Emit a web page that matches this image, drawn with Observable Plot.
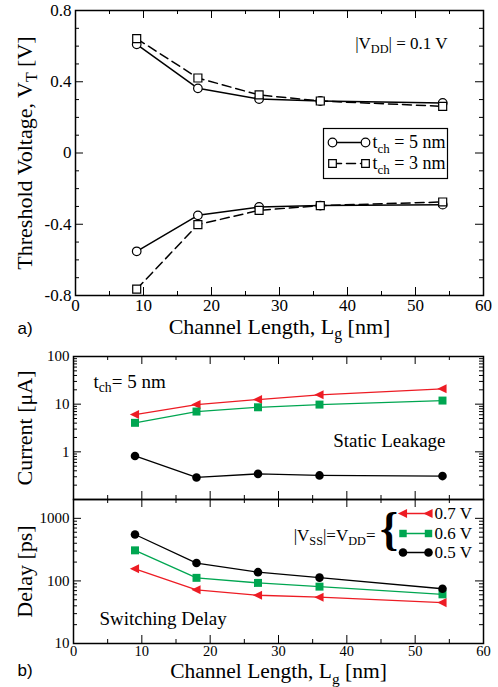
<!DOCTYPE html>
<html><head><meta charset="utf-8">
<script src="https://cdn.jsdelivr.net/npm/d3@7"></script>
<script src="https://cdn.jsdelivr.net/npm/@observablehq/plot@0.6"></script>
<style>
body{margin:0;background:#fff;}
#wrap{position:relative;width:498px;height:687px;overflow:hidden;background:#fff;}
#wrap svg{position:absolute;left:0;}
</style></head><body><div id="wrap"></div>
<script>
// ---------- data ----------
const Lg = [9, 18, 27, 36, 54];
// panel a: threshold voltage [V]
const vtUpper5 = [0.61, 0.363, 0.303, 0.292, 0.281];
const vtUpper3 = [0.642, 0.421, 0.326, 0.292, 0.262];
const vtLower5 = [-0.552, -0.35, -0.303, -0.295, -0.29];
const vtLower3 = [-0.764, -0.402, -0.322, -0.295, -0.275];
const tchLabels = ["t_{ch} = 5 nm", "t_{ch} = 3 nm"];
// panel b: static leakage current [uA]
const leak07 = [6.05, 9.8, 12.5, 15.7, 21];
const leak06 = [4.06, 7.0, 8.6, 9.8, 11.9];
const leak05 = [0.82, 0.29, 0.345, 0.32, 0.31];
// panel b: switching delay [ps]
const delay07 = [156, 72, 59, 55, 45];
const delay06 = [308, 112, 93, 81, 61];
const delay05 = [552, 193, 138, 113, 75];
const voltLabels = ["0.7 V", "0.6 V", "0.5 V"];
// ticks
const xMajor = [0, 10, 20, 30, 40, 50, 60];
const xMinor = [5, 15, 25, 35, 45, 55];
const vtMajor = [-0.8, -0.4, 0, 0.4, 0.8];
const vtMinor = [-0.7, -0.6, -0.5, -0.3, -0.2, -0.1, 0.1, 0.2, 0.3, 0.5, 0.6, 0.7];
const leakMajor = [1, 10, 100];
const delayMajor = [10, 100, 1000];

// ---------- tables ----------
const vtRows = [];
Lg.forEach((x, i) => {
  vtRows.push({x, v: vtUpper5[i], tch: "5", grp: "5u"});
  vtRows.push({x, v: vtLower5[i], tch: "5", grp: "5l"});
  vtRows.push({x, v: vtUpper3[i], tch: "3", grp: "3u"});
  vtRows.push({x, v: vtLower3[i], tch: "3", grp: "3l"});
});
const toRows = (arr) => Lg.map((x, i) => ({x, v: arr[i]}));

const RED = "#ed1c24", GREEN = "#00a651", BLACK = "#000";
const triLeft = {
  draw(ctx, size) {
    const r = Math.sqrt(size / Math.PI);
    ctx.moveTo(-1.2 * r, 0);
    ctx.lineTo(0.95 * r, -1.05 * r);
    ctx.lineTo(0.95 * r, 1.05 * r);
    ctx.closePath();
  }
};
const segShape = {draw(ctx, l) { ctx.moveTo(0, 0); ctx.lineTo(0, -l); }};

const MAJ = 8, MIN = 4;
function ticksX(major, minor, innerH) {
  return [
    Plot.tickX(major, {x: d => d, insetTop: innerH - MAJ, stroke: BLACK}),
    Plot.tickX(minor, {x: d => d, insetTop: innerH - MIN, stroke: BLACK}),
    Plot.tickX(major, {x: d => d, insetBottom: innerH - MAJ, stroke: BLACK}),
    Plot.tickX(minor, {x: d => d, insetBottom: innerH - MIN, stroke: BLACK})
  ];
}
function ticksY(major, minor, innerW) {
  return [
    Plot.tickY(major, {y: d => d, insetRight: innerW - MAJ, stroke: BLACK}),
    Plot.tickY(minor, {y: d => d, insetRight: innerW - MIN, stroke: BLACK}),
    Plot.tickY(major, {y: d => d, insetLeft: innerW - MAJ, stroke: BLACK}),
    Plot.tickY(minor, {y: d => d, insetLeft: innerW - MIN, stroke: BLACK})
  ];
}
const baseStyle = {fontFamily: "'Liberation Serif', 'Times New Roman', serif", background: "transparent", overflow: "visible", color: "black"};
const fmt = d => String(d);

// ---------- panel a ----------
const A = {ml: 75, mr: 15, mt: 10, mb: 45, h: 340};
const aW = 498 - A.ml - A.mr, aH = A.h - A.mt - A.mb;
const plotA = Plot.plot({
  width: 498, height: A.h,
  marginLeft: A.ml, marginRight: A.mr, marginTop: A.mt, marginBottom: A.mb,
  style: baseStyle,
  x: {domain: [0, 60]},
  y: {domain: [-0.8, 0.8]},
  marks: [
    ...ticksX(xMajor, xMinor, aH),
    ...ticksY(vtMajor, vtMinor, aW),
    Plot.axisX({ticks: xMajor, tickSize: 0, tickPadding: 3, fontSize: 17, tickFormat: fmt, label: null}),
    Plot.axisY({ticks: vtMajor, tickSize: 0, tickPadding: 4, fontSize: 17, tickFormat: fmt, label: null}),
    Plot.line(vtRows.filter(d => d.tch === "5"), {x: "x", y: "v", z: "grp", stroke: BLACK, strokeWidth: 1.5}),
    Plot.line(vtRows.filter(d => d.tch === "3"), {x: "x", y: "v", z: "grp", stroke: BLACK, strokeWidth: 1.5, strokeDasharray: "9,5"}),
    Plot.dot(vtRows.filter(d => d.tch === "5"), {x: "x", y: "v", r: 4.3, stroke: BLACK, fill: "white", strokeWidth: 1.2}),
    Plot.dot(vtRows.filter(d => d.tch === "3"), {x: "x", y: "v", r: 4.5, symbol: "square", stroke: BLACK, fill: "white", strokeWidth: 1.2}),
    // legend
    Plot.frame({insetLeft: 248, insetRight: 36, insetTop: 118, insetBottom: 117, stroke: BLACK, strokeWidth: 1.2, fill: "white"}),
    Plot.vector([0], {frameAnchor: "top-left", dx: 257, dy: 132, length: 33, rotate: 90, anchor: "start", shape: segShape, stroke: BLACK, strokeWidth: 1.5}),
    Plot.vector([0], {frameAnchor: "top-left", dx: 257, dy: 153, length: 33, rotate: 90, anchor: "start", shape: segShape, stroke: BLACK, strokeWidth: 1.5, strokeDasharray: "9,5"}),
    Plot.dot([0], {frameAnchor: "top-left", dx: 257, dy: 132, r: 4.3, stroke: BLACK, fill: "white", strokeWidth: 1.2}),
    Plot.dot([0], {frameAnchor: "top-left", dx: 290, dy: 132, r: 4.3, stroke: BLACK, fill: "white", strokeWidth: 1.2}),
    Plot.dot([0], {frameAnchor: "top-left", dx: 257, dy: 153, r: 4.3, symbol: "square", stroke: BLACK, fill: "white", strokeWidth: 1.2}),
    Plot.dot([0], {frameAnchor: "top-left", dx: 290, dy: 153, r: 4.3, symbol: "square", stroke: BLACK, fill: "white", strokeWidth: 1.2}),
    Plot.text([tchLabels[0]], {text: d => d, frameAnchor: "top-left", dx: 297, dy: 132, textAnchor: "start", lineAnchor: "middle", fontSize: 18}),
    Plot.text([tchLabels[1]], {text: d => d, frameAnchor: "top-left", dx: 297, dy: 153, textAnchor: "start", lineAnchor: "middle", fontSize: 18}),
    Plot.text(["|V_{DD}| = 0.1 V"], {text: d => d, frameAnchor: "top-right", dx: -36, dy: 33, textAnchor: "end", lineAnchor: "middle", fontSize: 17}),
    Plot.frame({stroke: BLACK, strokeWidth: 1.5}),
    // titles
    Plot.text(["Channel Length, L_{g} [nm]"], {text: d => d, frameAnchor: "bottom", dy: 31, textAnchor: "middle", lineAnchor: "middle", fontSize: 22}),
    Plot.text(["Threshold Voltage, V_{T} [V]"], {text: d => d, frameAnchor: "left", dx: -51, rotate: -90, textAnchor: "middle", lineAnchor: "middle", fontSize: 22}),
    Plot.text(["a)"], {text: d => d, frameAnchor: "bottom-left", dx: -58, dy: 33, textAnchor: "start", lineAnchor: "middle", fontSize: 17, fontFamily: "'Liberation Sans', Arial, sans-serif"})
  ]
});

// ---------- panel b: current ----------
const B = {ml: 73, mr: 15};
const bW = 498 - B.ml - B.mr;
const B1 = {mt: 16, mb: 0, h: 159};
const b1H = B1.h - B1.mt - B1.mb;
const leakMinor = [0.1, 1, 10].flatMap(b => d3.range(2, 10).map(k => b * k));
const plotB1 = Plot.plot({
  width: 498, height: B1.h,
  marginLeft: B.ml, marginRight: B.mr, marginTop: B1.mt, marginBottom: B1.mb,
  style: baseStyle,
  x: {domain: [0, 60], axis: null},
  y: {type: "log", domain: [0.1, 100]},
  marks: [
    ...ticksX(xMajor, xMinor, b1H),
    ...ticksY(leakMajor, leakMinor, bW),
    Plot.axisY({ticks: leakMajor, tickSize: 0, tickPadding: 4, fontSize: 15, tickFormat: fmt, label: null}),
    Plot.line(toRows(leak07), {x: "x", y: "v", stroke: RED, strokeWidth: 1.3}),
    Plot.line(toRows(leak06), {x: "x", y: "v", stroke: GREEN, strokeWidth: 1.3}),
    Plot.line(toRows(leak05), {x: "x", y: "v", stroke: BLACK, strokeWidth: 1.3}),
    Plot.dot(toRows(leak07), {x: "x", y: "v", r: 4.3, symbol: triLeft, fill: RED}),
    Plot.dot(toRows(leak06), {x: "x", y: "v", r: 4.5, symbol: "square", fill: GREEN}),
    Plot.dot(toRows(leak05), {x: "x", y: "v", r: 4.3, fill: BLACK}),
    Plot.text(["t_{ch}= 5 nm"], {text: d => d, frameAnchor: "top-left", dx: 20, dy: 25, textAnchor: "start", lineAnchor: "middle", fontSize: 19}),
    Plot.text(["Static Leakage"], {text: d => d, frameAnchor: "top-right", dx: -38, dy: 84, textAnchor: "end", lineAnchor: "middle", fontSize: 19}),
    Plot.frame({stroke: BLACK, strokeWidth: 1.5}),
    Plot.text(["Current [μA]"], {text: d => d, frameAnchor: "left", dx: -49, rotate: -90, textAnchor: "middle", lineAnchor: "middle", fontSize: 22})
  ]
});

// ---------- panel b: delay ----------
const B2 = {mt: 0, mb: 44, h: 188};
const b2H = B2.h - B2.mt - B2.mb;
const delayMinor = [10, 100, 1000].flatMap(b => d3.range(2, 10).map(k => b * k)).filter(v => v <= 2000);
const legRows = [14, 34, 53];
const legSymbols = [
  {symbol: triLeft, fill: RED, r: 4.3},
  {symbol: "square", fill: GREEN, r: 4.2},
  {symbol: "circle", fill: BLACK, r: 4.3}
];
const legColors = [RED, GREEN, BLACK];
const legendMarks = voltLabels.flatMap((lab, i) => [
  Plot.vector([0], {frameAnchor: "top-right", dx: -80.5, dy: legRows[i], length: 25.5, rotate: 90, anchor: "start", shape: segShape, stroke: legColors[i], strokeWidth: 1.3}),
  Plot.dot([0], {frameAnchor: "top-right", dx: -80.5, dy: legRows[i], r: legSymbols[i].r, symbol: legSymbols[i].symbol, fill: legSymbols[i].fill}),
  Plot.dot([0], {frameAnchor: "top-right", dx: -55, dy: legRows[i], r: legSymbols[i].r, symbol: legSymbols[i].symbol, fill: legSymbols[i].fill}),
  Plot.text([lab], {text: d => d, frameAnchor: "top-right", dx: -49, dy: legRows[i], textAnchor: "start", lineAnchor: "middle", fontSize: 17})
]);
const plotB2 = Plot.plot({
  width: 498, height: B2.h,
  marginLeft: B.ml, marginRight: B.mr, marginTop: B2.mt, marginBottom: B2.mb,
  style: baseStyle,
  x: {domain: [0, 60]},
  y: {type: "log", domain: [10, 2000]},
  marks: [
    ...ticksX(xMajor, xMinor, b2H),
    ...ticksY(delayMajor, delayMinor, bW),
    Plot.axisX({ticks: xMajor, tickSize: 0, tickPadding: 2, fontSize: 14.5, tickFormat: fmt, label: null}),
    Plot.axisY({ticks: delayMajor, tickSize: 0, tickPadding: 4, fontSize: 15, tickFormat: fmt, label: null}),
    Plot.line(toRows(delay07), {x: "x", y: "v", stroke: RED, strokeWidth: 1.3}),
    Plot.line(toRows(delay06), {x: "x", y: "v", stroke: GREEN, strokeWidth: 1.3}),
    Plot.line(toRows(delay05), {x: "x", y: "v", stroke: BLACK, strokeWidth: 1.3}),
    Plot.dot(toRows(delay07), {x: "x", y: "v", r: 4.3, symbol: triLeft, fill: RED}),
    Plot.dot(toRows(delay06), {x: "x", y: "v", r: 4.5, symbol: "square", fill: GREEN}),
    Plot.dot(toRows(delay05), {x: "x", y: "v", r: 4.3, fill: BLACK}),
    ...legendMarks,
    Plot.text(["|V_{SS}|=V_{DD}="], {text: d => d, frameAnchor: "top-right", dx: -108, dy: 36, textAnchor: "end", lineAnchor: "middle", fontSize: 17}),
    Plot.text(["{"], {text: d => d, frameAnchor: "top-right", dx: -94.5, dy: 30, textAnchor: "middle", lineAnchor: "middle", fontSize: 46, fontWeight: "bold"}),
    Plot.text(["Switching Delay"], {text: d => d, frameAnchor: "top-left", dx: 26, dy: 119, textAnchor: "start", lineAnchor: "middle", fontSize: 19}),
    Plot.frame({stroke: BLACK, strokeWidth: 1.5}),
    Plot.text(["Delay [ps]"], {text: d => d, frameAnchor: "left", dx: -49, rotate: -90, textAnchor: "middle", lineAnchor: "middle", fontSize: 22}),
    Plot.text(["Channel Length, L_{g} [nm]"], {text: d => d, frameAnchor: "bottom", dy: 28, textAnchor: "middle", lineAnchor: "middle", fontSize: 21.5}),
    Plot.text(["b)"], {text: d => d, frameAnchor: "bottom-left", dx: -56, dy: 27, textAnchor: "start", lineAnchor: "middle", fontSize: 17, fontFamily: "'Liberation Sans', Arial, sans-serif"})
  ]
});

// ---------- layout ----------
const wrap = document.getElementById("wrap");
[[plotA, 0], [plotB1, 340], [plotB2, 499]].forEach(([el, top]) => {
  el.style.top = top + "px";
  wrap.appendChild(el);
});

// ---------- subscripts ----------
function applySubs(root) {
  root.querySelectorAll("text").forEach(t => {
    const s = t.textContent;
    if (!s.includes("_{")) return;
    const fs = parseFloat(getComputedStyle(t).fontSize);
    const shift = fs * 0.25;
    while (t.firstChild) t.removeChild(t.firstChild);
    let shifted = false;
    s.split(/(_\{[^}]*\})/).forEach(p => {
      if (!p) return;
      const ts = document.createElementNS("http://www.w3.org/2000/svg", "tspan");
      if (p.startsWith("_{")) {
        ts.textContent = p.slice(2, -1);
        ts.setAttribute("font-size", fs * 0.72);
        ts.setAttribute("dy", shift);
        shifted = true;
      } else {
        ts.textContent = p;
        if (shifted) { ts.setAttribute("dy", -shift); shifted = false; }
      }
      t.appendChild(ts);
    });
  });
}
applySubs(wrap);
</script></body></html>
